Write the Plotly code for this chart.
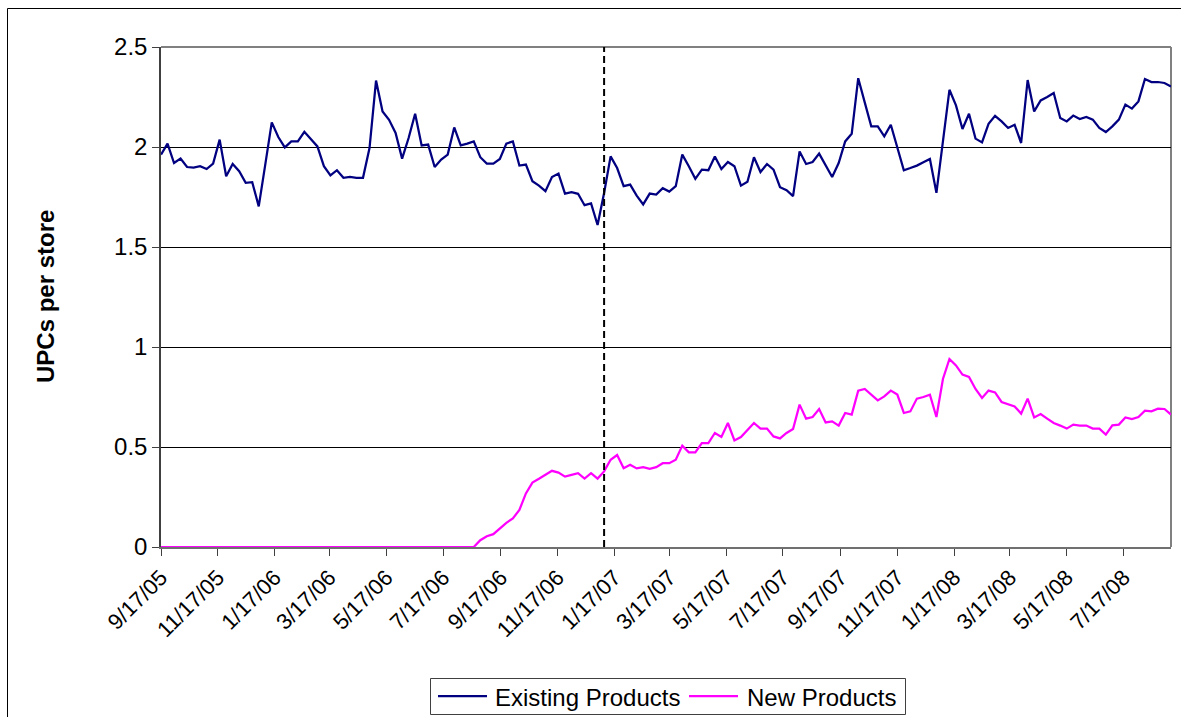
import pandas as pd
import plotly.graph_objects as go

# ---- data ----
start_date = "2005-09-17"   # weekly observations
n_weeks = 156
event_date = "2007-01-06"   # dashed reference line

existing_products = [
    1.962, 2.017, 1.920, 1.942, 1.900, 1.897, 1.904, 1.890, 1.917, 2.037,
    1.854, 1.915, 1.879, 1.821, 1.824, 1.703, 1.912, 2.123, 2.050, 1.998,
    2.028, 2.028, 2.076, 2.042, 2.003, 1.904, 1.858, 1.884, 1.846, 1.850,
    1.846, 1.846, 1.995, 2.332, 2.178, 2.136, 2.070, 1.942, 2.045, 2.166,
    2.008, 2.012, 1.900, 1.937, 1.962, 2.098, 2.008, 2.017, 2.028, 1.949,
    1.917, 1.917, 1.940, 2.017, 2.028, 1.907, 1.912, 1.829, 1.807, 1.779,
    1.850, 1.867, 1.767, 1.774, 1.766, 1.709, 1.718, 1.610, 1.770, 1.953,
    1.895, 1.804, 1.812, 1.757, 1.713, 1.767, 1.762, 1.794, 1.777, 1.804,
    1.962, 1.904, 1.841, 1.887, 1.884, 1.953, 1.890, 1.925, 1.904, 1.807,
    1.826, 1.949, 1.875, 1.915, 1.887, 1.799, 1.784, 1.754, 1.978, 1.915,
    1.925, 1.967, 1.907, 1.850, 1.920, 2.028, 2.066, 2.344, 2.223, 2.103,
    2.103, 2.053, 2.111, 2.000, 1.884, 1.895, 1.907, 1.924, 1.940, 1.771,
    2.030, 2.286, 2.208, 2.090, 2.166, 2.042, 2.023, 2.116, 2.156, 2.128,
    2.095, 2.111, 2.020, 2.335, 2.178, 2.233, 2.250, 2.270, 2.145, 2.128,
    2.157, 2.140, 2.150, 2.137, 2.095, 2.075, 2.103, 2.137, 2.212, 2.192,
    2.228, 2.340, 2.325, 2.325, 2.320, 2.303,
]

new_products = [0.0] * 49 + [
    0.034, 0.054, 0.064, 0.092, 0.121, 0.143, 0.185, 0.268, 0.322, 0.341,
    0.361, 0.381, 0.372, 0.352, 0.361, 0.369, 0.342, 0.369, 0.342, 0.378,
    0.436, 0.460, 0.394, 0.411, 0.393, 0.399, 0.391, 0.399, 0.419, 0.419,
    0.436, 0.507, 0.473, 0.473, 0.520, 0.520, 0.570, 0.550, 0.620, 0.533,
    0.550, 0.587, 0.620, 0.592, 0.592, 0.553, 0.543, 0.570, 0.590, 0.712,
    0.642, 0.650, 0.690, 0.623, 0.628, 0.607, 0.670, 0.662, 0.782, 0.790,
    0.762, 0.733, 0.753, 0.782, 0.762, 0.670, 0.678, 0.742, 0.750, 0.762,
    0.650, 0.840, 0.940, 0.908, 0.862, 0.850, 0.790, 0.745, 0.782, 0.773,
    0.725, 0.712, 0.703, 0.667, 0.742, 0.648, 0.665, 0.642, 0.620, 0.607,
    0.592, 0.612, 0.607, 0.607, 0.592, 0.592, 0.562, 0.608, 0.612, 0.648,
    0.640, 0.650, 0.682, 0.678, 0.692, 0.690, 0.662,
]

tick_dates = [
    "2005-09-17", "2005-11-17", "2006-01-17", "2006-03-17", "2006-05-17",
    "2006-07-17", "2006-09-17", "2006-11-17", "2007-01-17", "2007-03-17",
    "2007-05-17", "2007-07-17", "2007-09-17", "2007-11-17", "2008-01-17",
    "2008-03-17", "2008-05-17", "2008-07-17",
]
tick_labels = [
    "9/17/05", "11/17/05", "1/17/06", "3/17/06", "5/17/06", "7/17/06",
    "9/17/06", "11/17/06", "1/17/07", "3/17/07", "5/17/07", "7/17/07",
    "9/17/07", "11/17/07", "1/17/08", "3/17/08", "5/17/08", "7/17/08",
]

series_names = ["Existing Products", "New Products"]
series_colors = ["#000080", "#FF00FF"]

dates = pd.date_range(start=start_date, periods=n_weeks, freq="7D")

FONT = "Liberation Sans, Arial, sans-serif"

W, H = 1181, 717
L, R, T, B = 161, 10, 47, 170
pw, ph = W - L - R, H - T - B


def sx(p):  # pixel x -> paper x
    return (p - L) / pw


def sy(p):  # pixel y -> paper y
    return (H - B - p) / ph


fig = go.Figure()
for name, vals, col in zip(series_names, [existing_products, new_products], series_colors):
    fig.add_trace(go.Scatter(
        x=dates, y=vals, mode="lines", name=name,
        line=dict(color=col, width=2.25), cliponaxis=False,
    ))

# plot-area border (top/right, gray)
fig.add_shape(type="line", xref="paper", yref="paper", x0=0, x1=1, y0=1, y1=1,
              line=dict(color="#808080", width=2), layer="below")
fig.add_shape(type="line", xref="paper", yref="paper", x0=1, x1=1, y0=0, y1=1,
              line=dict(color="#808080", width=2), layer="below")

# dashed event line
fig.add_shape(type="line", xref="x", yref="y", x0=event_date, x1=event_date,
              y0=0, y1=2.5, line=dict(color="black", width=2, dash="7px,4px"))

# outer chart frame (left and top edges)
fig.add_shape(type="line", xref="paper", yref="paper",
              x0=sx(7.5), x1=sx(1190), y0=sy(8.5), y1=sy(8.5),
              line=dict(color="black", width=1))
fig.add_shape(type="line", xref="paper", yref="paper",
              x0=sx(7.5), x1=sx(7.5), y0=sy(8.5), y1=sy(730),
              line=dict(color="black", width=1))

# y-axis title
fig.add_annotation(
    text="<b>UPCs per store</b>", textangle=-90,
    xref="paper", yref="paper", x=sx(45), y=0.5,
    xanchor="center", yanchor="middle", showarrow=False,
    font=dict(family=FONT, size=24, color="black"),
)

# legend box (Excel style)
fig.add_shape(type="rect", xref="paper", yref="paper",
              x0=sx(430.5), x1=sx(905.5), y0=sy(678.5), y1=sy(714.5),
              line=dict(color="#404040", width=1), fillcolor="white")
legend_line_x = [(438, 487), (689, 738)]
legend_text_x = [493, 745]
for name, col, (a, b), tx in zip(series_names, series_colors, legend_line_x, legend_text_x):
    fig.add_shape(type="line", xref="paper", yref="paper",
                  x0=sx(a), x1=sx(b), y0=sy(696), y1=sy(696),
                  line=dict(color=col, width=2.25))
    fig.add_annotation(
        text=name, xref="paper", yref="paper", x=sx(tx), y=sy(697),
        xanchor="left", yanchor="middle", showarrow=False,
        font=dict(family=FONT, size=24, color="black"),
    )

fig.update_layout(
    width=W, height=H,
    margin=dict(l=L, r=R, t=T, b=B, autoexpand=False),
    paper_bgcolor="white", plot_bgcolor="white",
    font=dict(family=FONT, size=24, color="black"),
    showlegend=False,
)

fig.update_xaxes(
    type="date",
    range=[dates[0], dates[-1]],
    tickvals=tick_dates, ticktext=tick_labels,
    tickangle=-45,
    tickfont=dict(family=FONT, size=22),
    showgrid=False, zeroline=False,
    showline=True, linecolor="#707070", linewidth=2,
    ticks="outside", ticklen=7, tickcolor="#404040", tickwidth=1,
    layer="below traces", automargin=False,
)
fig.update_yaxes(
    range=[0, 2.5], dtick=0.5, tick0=0,
    tickfont=dict(family=FONT, size=24),
    showgrid=True, gridcolor="black", gridwidth=1,
    zeroline=False,
    showline=True, linecolor="#404040", linewidth=1.5,
    ticks="outside", ticklen=7, tickcolor="#404040", tickwidth=1,
    layer="below traces", automargin=False,
)

# remove the page's default 8px body margin so the figure fills the window
fig.write_html("out.html",
               config={"displayModeBar": False},
               post_script="document.body.style.margin='0px';")
